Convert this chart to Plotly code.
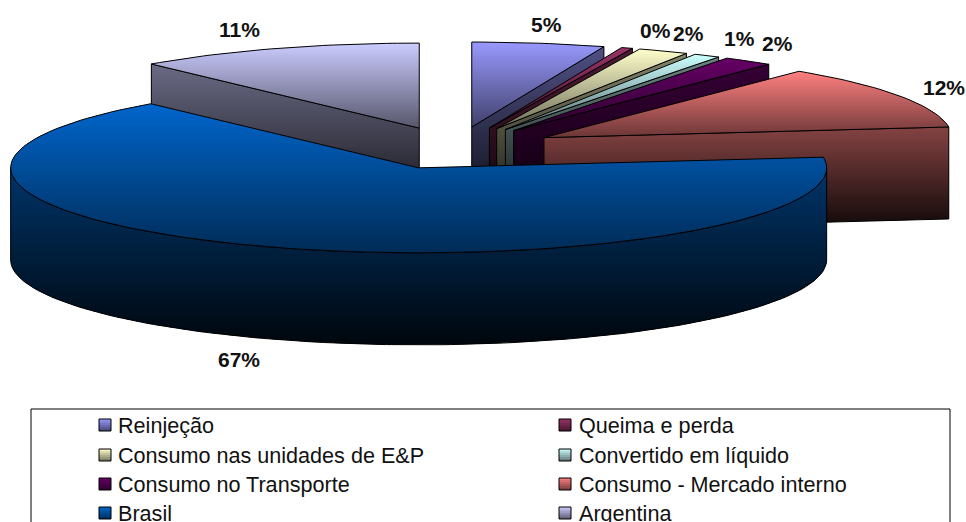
import math
import plotly.graph_objects as go

# ---- data ----
categories = ["Reinjeção", "Queima e perda", "Consumo nas unidades de E&P", "Convertido em líquido",
              "Consumo no Transporte", "Consumo - Mercado interno", "Brasil", "Argentina"]
shares = [5.25, 0.45, 2.0, 1.05, 2.0, 12.25, 65.6, 11.4]
pct_labels = ["5%", "0%", "2%", "1%", "2%", "12%", "67%", "11%"]
colors = [(153, 153, 255), (153, 51, 102), (255, 255, 204), (204, 255, 255),
          (102, 0, 102), (255, 128, 128), (0, 102, 204), (204, 204, 255)]

# ---- layout parameters ----
W, H = 966, 522
CX, CY, RX, RY, DEPTH, EXPLODE = 455, 148, 408, 85, 92, 0.25
BAND = 2
label_off = [(8, -19), (28, -17), (25, -18), (33, -17), (29, -18), (44, -9), (-34, 112), (-37, -19)]
LEG_ROWS = [425, 455, 484, 513]
LEG_SW = [99, 559]
LEG_TX = [116, 577]

fig = go.Figure()


def clip(poly, y0, keep_below):
    out = []
    n = len(poly)
    for i in range(n):
        a, b = poly[i], poly[(i + 1) % n]
        ina = a[1] >= y0 if keep_below else a[1] <= y0
        inb = b[1] >= y0 if keep_below else b[1] <= y0
        if ina:
            out.append(a)
        if ina != inb:
            t = (y0 - a[1]) / (b[1] - a[1])
            out.append((a[0] + t * (b[0] - a[0]), y0))
    return out


def rgb(c, f):
    return "rgb(%d,%d,%d)" % tuple(max(0, min(255, round(v * f))) for v in c)


def add_poly(poly, color, line=None):
    xs = [p[0] for p in poly] + [poly[0][0]]
    ys = [p[1] for p in poly] + [poly[0][1]]
    fig.add_trace(go.Scatter(x=xs, y=ys, mode="lines", fill="toself" if color else None,
                             fillcolor=color, line=dict(width=line or 0, color="#000"),
                             hoverinfo="skip", showlegend=False))


def gradient(poly, c, high, low):
    ymin = min(p[1] for p in poly)
    ymax = max(p[1] for p in poly)
    top = math.floor(ymin)
    bot = math.ceil(ymax)
    y = top
    while y < bot:
        band = clip(clip(poly, y, True), min(y + BAND + 1, bot), False)
        if len(band) >= 3:
            t = (y + BAND / 2 - ymin) / (ymax - ymin)
            add_poly(band, rgb(c, high + (low - high) * min(t, 1)))
        y += BAND


def rim(ox, oy, deg):
    a = math.radians(deg)
    return (ox + RX * math.sin(a), oy - RY * math.cos(a))


total = sum(shares)
spans, cum = [], 0.0
for s in shares:
    spans.append((cum / total * 360, (cum + s) / total * 360))
    cum += s

order = [7, 0, 1, 2, 3, 4, 5, 6]
for i in order:
    a0, a1 = spans[i]
    mid = math.radians((a0 + a1) / 2)
    ox = CX + EXPLODE * RX * math.sin(mid)
    oy = CY - EXPLODE * RY * math.cos(mid)
    n = max(3, int((a1 - a0) / 1.5))
    arc = [rim(ox, oy, a0 + (a1 - a0) * k / n) for k in range(n + 1)]
    top = [(ox, oy)] + arc

    walls = []
    if 0 < a1 < 180:
        e = arc[-1]
        walls.append([(ox, oy), e, (e[0], e[1] + DEPTH), (ox, oy + DEPTH)])
    if 180 < a0 < 360:
        s = arc[0]
        walls.append([(ox, oy), s, (s[0], s[1] + DEPTH), (ox, oy + DEPTH)])
    lo, hi = max(a0, 90), min(a1, 270)
    if hi > lo:
        m = int((hi - lo) / 1.5)
        front = [rim(ox, oy, lo + (hi - lo) * k / m) for k in range(m + 1)]
        walls.append(front + [(x, y + DEPTH) for x, y in reversed(front)])
    for w in walls:
        gradient(w, colors[i], 0.52, 0.06)
        add_poly(w, None, 1)
    gradient(top, colors[i], 1.0, 0.42)
    add_poly(top, None, 1)

# percentage labels
for i, lab in enumerate(pct_labels):
    a0, a1 = spans[i]
    mid = math.radians((a0 + a1) / 2)
    lx = CX + (1 + EXPLODE) * RX * math.sin(mid) + label_off[i][0]
    ly = CY - (1 + EXPLODE) * RY * math.cos(mid) + label_off[i][1]
    fig.add_annotation(x=lx, y=ly, text="<b>%s</b>" % lab, showarrow=False, xanchor="center", yanchor="middle",
                       font=dict(family="Liberation Sans", size=21, color="#111"))

# legend
fig.add_shape(type="rect", x0=31, x1=950, y0=409, y1=H + 20, line=dict(color="#000", width=1),
              fillcolor="rgba(0,0,0,0)", layer="below")
for i, name in enumerate(categories):
    r, c = i // 2, i % 2
    y = LEG_ROWS[r]
    sw = [(LEG_SW[c], y - 6), (LEG_SW[c] + 12, y - 6), (LEG_SW[c] + 12, y + 6), (LEG_SW[c], y + 6)]
    gradient(sw, colors[i], 1.0, 0.45)
    add_poly(sw, None, 1)
    fig.add_annotation(x=LEG_TX[c], y=y, text=name, showarrow=False, xanchor="left", yanchor="middle",
                       font=dict(family="Liberation Sans", size=21.6, color="#111"))

fig.update_layout(width=W, height=H, margin=dict(l=0, r=0, t=0, b=0), autosize=False,
                  paper_bgcolor="white", plot_bgcolor="white", showlegend=False,
                  xaxis=dict(range=[0, W], visible=False, fixedrange=True),
                  yaxis=dict(range=[H, 0], visible=False, fixedrange=True))
fig.write_html("out.html", config=dict(displayModeBar=False),
               post_script="document.body.style.margin='0';document.body.style.overflow='hidden';")
